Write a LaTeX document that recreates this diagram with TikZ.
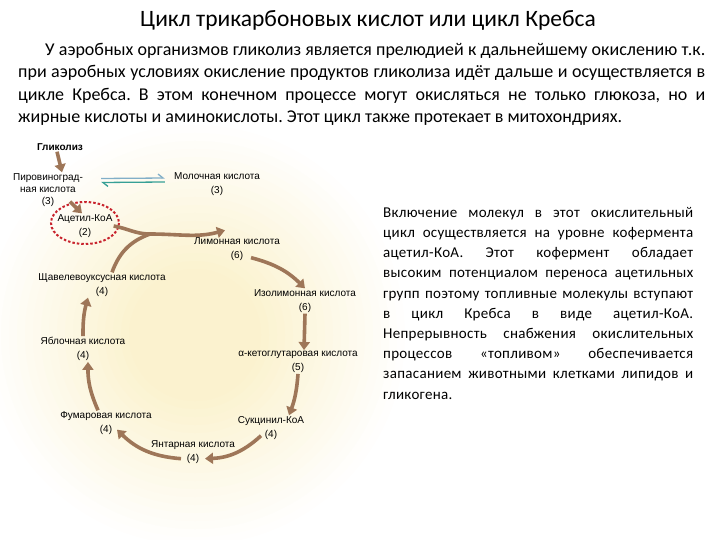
\documentclass[tikz,border=0pt]{standalone}
\usepackage{fontspec}
\setmainfont{Carlito}
\newfontfamily\lblfont{Liberation Sans}
\usetikzlibrary{arrows.meta,shapes.geometric,positioning}
\definecolor{brn}{RGB}{158,118,88}
\definecolor{ringc}{RGB}{200,35,45}
\definecolor{harpa}{RGB}{130,175,200}
\definecolor{harpb}{RGB}{55,160,150}
\definecolor{glowc}{RGB}{251,242,206}

\begin{document}
\frenchspacing
\begin{tikzpicture}[x=1pt,y=-1pt,
  lbl/.style={font=\lblfont\fontsize{10}{12}\selectfont,align=center,inner sep=1pt},
  lblb/.style={lbl,font=\lblfont\bfseries\fontsize{10}{12}\selectfont},
  ar/.style={draw=brn,line width=3.6pt,-{Triangle[length=8pt,width=11pt]}},
  arl/.style={draw=brn,line width=3.6pt},
  harpR/.style={draw=harpa,line width=1.3pt,-{Straight Barb[harpoon,length=5pt,width=8pt]}},
  harpL/.style={draw=harpb,line width=1.3pt,-{Straight Barb[harpoon,length=5pt,width=8pt]}},
  ring/.style={draw=ringc,line width=2pt,dash pattern=on 2.5pt off 2pt}
]
\useasboundingbox (0,0) rectangle (720,540);
% soft background glow
\foreach \r [evaluate=\r as \p using {int((215-\r)/1.5)}] in {210,202,...,66}
  \fill[glowc!\p!white] (195,335) circle (\r);

% header
\node[font=\fontsize{23.5}{28}\selectfont] (title) at (368,20) {Цикл трикарбоновых кислот или цикл Кребса};
\node[anchor=north west,text width=687pt,align=justify,inner sep=0pt,font=\fontsize{18}{22.4}\selectfont] (intro) at (18,43)
  {\hspace*{27pt}У аэробных организмов гликолиз является прелюдией к дальнейшему окислению т.к.\linebreak
   при аэробных условиях окисление продуктов гликолиза идёт дальше и осуществляется в\linebreak
   цикле Кребса. В этом конечном процессе могут окисляться не только глюкоза, но и\linebreak
   жирные кислоты и аминокислоты. Этот цикл также протекает в митохондриях.};
\node[anchor=north west,text width=310pt,align=justify,inner sep=0pt,font=\fontsize{15}{20.2}\selectfont\addfontfeatures{LetterSpace=2}] (note) at (383,207)
  {Включение молекул в этот окислительный\linebreak
   цикл осуществляется на уровне кофермента\linebreak
   ацетил-КоА. Этот кофермент обладает\linebreak
   высоким потенциалом переноса ацетильных\linebreak
   групп поэтому топливные молекулы вступают\linebreak
   в цикл Кребса в виде ацетил-КоА.\linebreak
   Непрерывность снабжения окислительных\linebreak
   процессов «топливом» обеспечивается\linebreak
   запасанием животными клетками липидов и\linebreak
   гликогена.};

% cycle
\node[lblb] (glyc) at (60,147) {Гликолиз};
\node[lbl] (pyr) at (48,190) {Пировиноград-\\ная кислота\\(3)};
\node[lbl] (lac) at (217,184) {Молочная кислота\\[2pt](3)};
\node[lbl] (acet) at (85,226) {Ацетил-КоА\\[2pt](2)};
\node[lbl] (cit) at (237,249) {Лимонная кислота\\[2pt](6)};
\node[lbl] (oxa) at (102,285) {Щавелевоуксусная кислота\\[2pt](4)};
\node[lbl] (iso) at (305,301) {Изолимонная кислота\\[2pt](6)};
\node[lbl] (mal) at (83,349) {Яблочная кислота\\[2pt](4)};
\node[lbl] (akg) at (298,362) {α-кетоглутаровая кислота\\[2pt](5)};
\node[lbl] (fum) at (106,423) {Фумаровая кислота\\[2pt](4)};
\node[lbl] (sccoa) at (271,428) {Сукцинил-КоА\\[2pt](4)};
\node[lbl] (succ) at (193,452) {Янтарная кислота\\[2pt](4)};
\coordinate (mrg) at (150,234);

\draw[ring] ([yshift=3pt]acet.center) ellipse [x radius=34,y radius=21];
\draw[harpR] ([xshift=17pt,yshift=11.5pt]pyr.east) -- ([xshift=-8pt,yshift=6pt]lac.west);
\draw[harpL] ([xshift=-8pt,yshift=2pt]lac.west) -- ([xshift=17pt,yshift=7.5pt]pyr.east);
\draw[ar] ([xshift=-3pt]glyc.south) -- ([xshift=14pt]pyr.north);
\draw[ar] ([xshift=22pt,yshift=6pt]pyr.south) -- ([xshift=-3pt]acet.north);
\draw[ar] (acet.east) to[out=-10,in=180] (mrg) to[out=0,in=195] ([xshift=-12pt,yshift=6pt]cit.north);
\draw[arl] ([xshift=10pt]oxa.north) to[out=70,in=200] (mrg);
\draw[ar] ([xshift=14pt,yshift=4pt]cit.south) to[bend left=15] (iso.north);
\draw[ar] (iso.south) -- ([xshift=6pt]akg.north);
\draw[ar] (akg.south) to[bend left=8] ([xshift=18pt]sccoa.north);
\draw[ar] ([xshift=-10pt,yshift=5pt]sccoa.south) to[bend left=20] ([xshift=12pt,yshift=6pt]succ.south);
\draw[ar] ([xshift=-12pt,yshift=6pt]succ.south) to[bend left=20] ([xshift=11pt,yshift=6pt]fum.south);
\draw[ar] ([xshift=-8pt]fum.north) to[bend left=12] ([xshift=5pt]mal.south);
\draw[ar] (mal.north) to[bend left=8] ([xshift=-14pt]oxa.south);
\end{tikzpicture}
\end{document}
